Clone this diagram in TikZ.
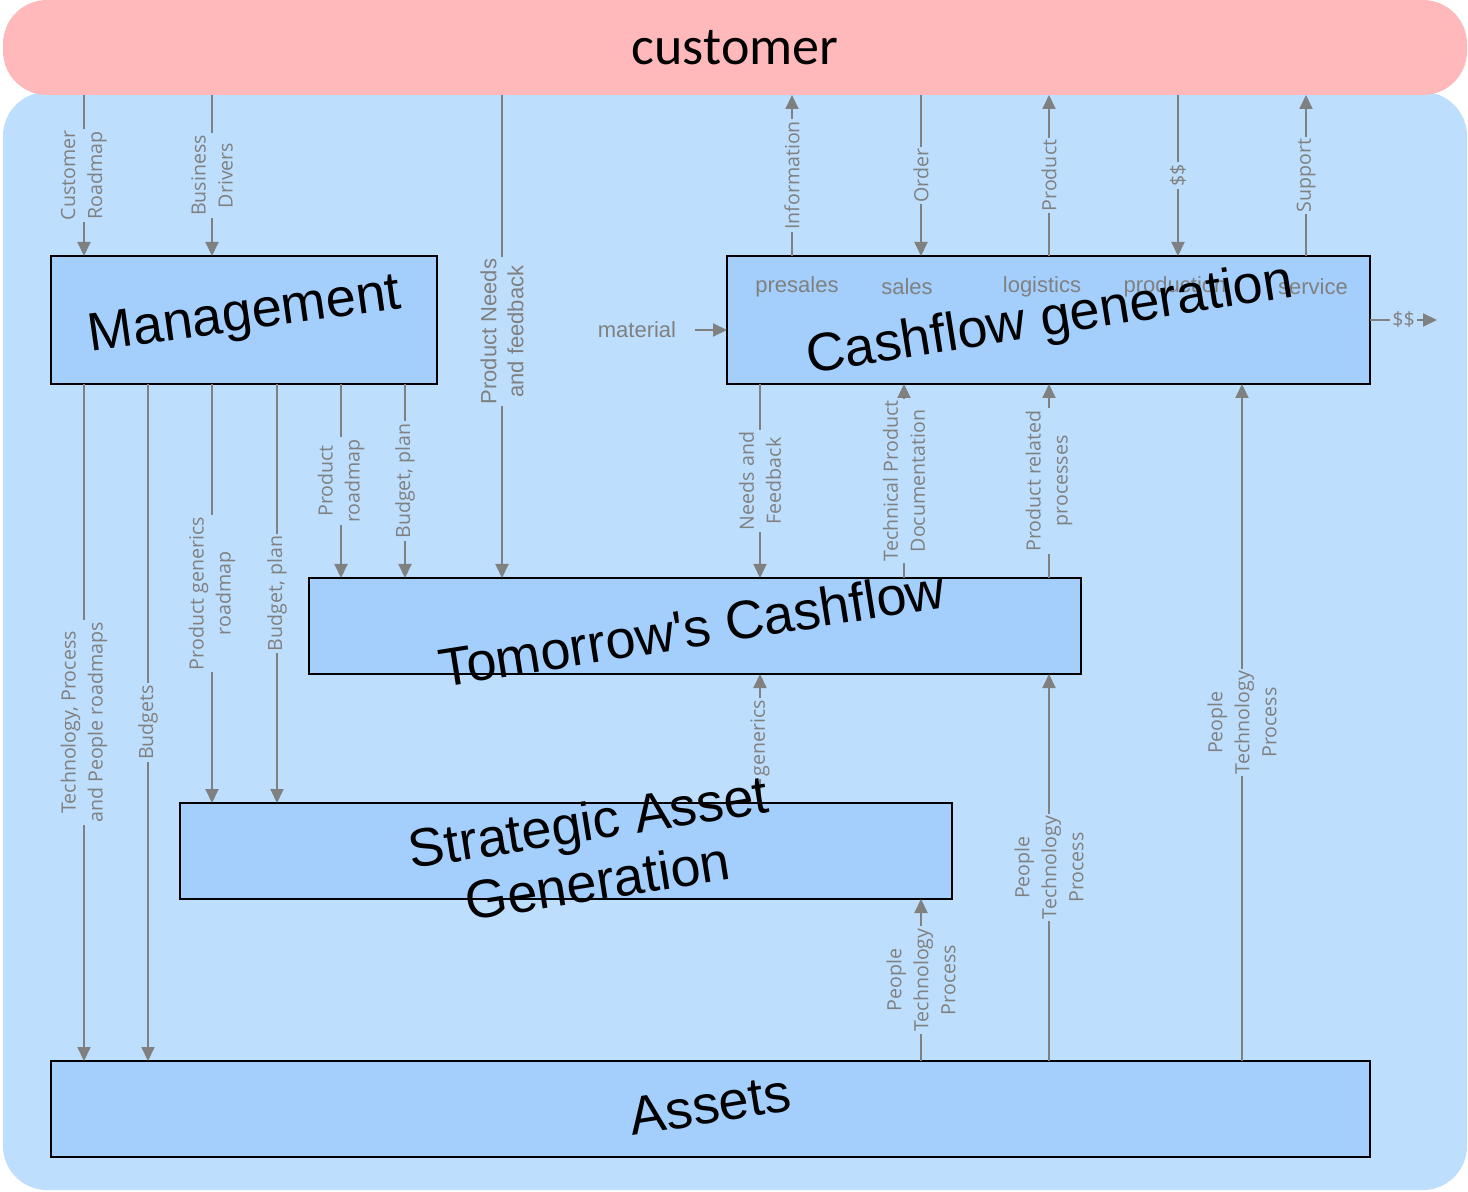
\documentclass[tikz,border=0pt]{standalone}
\usepackage{fontspec}
\newfontfamily\arialf{Liberation Sans}
\newfontfamily\osans{Open Sans}
\newfontfamily\carl{Carlito}
\usetikzlibrary{arrows.meta}
\definecolor{bgblue}{RGB}{190,222,253}
\definecolor{boxblue}{RGB}{164,207,253}
\definecolor{custpink}{RGB}{255,185,186}
\definecolor{lgray}{RGB}{128,128,128}
\begin{document}
\begin{tikzpicture}[x=0.5pt,y=-0.5pt,
 box/.style={draw=black, line width=0.8pt, fill=boxblue, inner sep=0pt, outer sep=0pt},
 bigtxt/.style={font=\arialf\fontsize{27}{30}\selectfont, align=center, inner sep=0pt},
 arr/.style={draw=lgray, line width=1pt, -{Triangle[width=6.5pt,length=7pt]}},
 lbl/.style={font=\osans\fontsize{9.8}{13.5}\selectfont, text=lgray, fill=bgblue, rotate=90, align=center, inner sep=1pt},
 lbla/.style={lbl, font=\arialf\fontsize{11}{13.5}\selectfont},
 hlbl/.style={font=\osans\fontsize{9.8}{12}\selectfont, text=lgray, fill=bgblue, inner sep=1pt},
 inlbl/.style={font=\arialf\fontsize{11}{13}\selectfont, text=lgray, inner sep=0pt},
]
\useasboundingbox (0,0) rectangle (1468,1192);
\fill[bgblue, rounded corners=22pt] (3,92) rectangle (1467,1190);
\node[fill=custpink, rounded corners=22pt, minimum width=732pt, minimum height=47.5pt, inner sep=0pt, outer sep=0pt, font=\carl\fontsize{27}{30}\selectfont] (cust) at (735,47.5) {customer};

% boxes
\node[box, minimum width=193pt, minimum height=64pt] (mgmt) at (244,320) {};
\node[box, minimum width=321.5pt, minimum height=64pt] (cfg) at (1048.5,320) {};
\node[box, minimum width=386pt, minimum height=48pt] (tom) at (695,626) {};
\node[box, minimum width=386pt, minimum height=48pt] (sag) at (566,851) {};
\node[box, minimum width=659.5pt, minimum height=48pt] (assets) at (710.5,1109) {};

% column coordinates
\foreach \c in {84,148,212,277,341,405,502,760,792,904,921,1049,1178,1242,1306}
  \coordinate (c\c) at (\c,0);

% customer <-> management / cashflow
\draw[arr] (cust.south -| c84) -- node[lbl]{Customer\\Roadmap} (mgmt.north -| c84);
\draw[arr] (cust.south -| c212) -- node[lbl]{Business\\Drivers} (mgmt.north -| c212);
\draw[arr] (cust.south -| c502) -- node[lbla, pos=0.49]{Product Needs\\and feedback} (tom.north -| c502);
\draw[arr] (cfg.north -| c792) -- node[lbl]{Information} (cust.south -| c792);
\draw[arr] (cust.south -| c921) -- node[lbl]{Order} (cfg.north -| c921);
\draw[arr] (cfg.north -| c1049) -- node[lbl]{Product} (cust.south -| c1049);
\draw[arr] (cust.south -| c1178) -- node[lbl]{\$\$} (cfg.north -| c1178);
\draw[arr] (cfg.north -| c1306) -- node[lbl]{Support} (cust.south -| c1306);

% management outputs
\draw[arr] (mgmt.south -| c84) -- node[lbl]{Technology, Process\\and People roadmaps} (assets.north -| c84);
\draw[arr] (mgmt.south -| c148) -- node[lbl]{Budgets} (assets.north -| c148);
\draw[arr] (mgmt.south -| c212) -- node[lbl]{Product generics\\roadmap} (sag.north -| c212);
\draw[arr] (mgmt.south -| c277) -- node[lbl]{Budget, plan} (sag.north -| c277);
\draw[arr] (mgmt.south -| c341) -- node[lbl]{Product\\roadmap} (tom.north -| c341);
\draw[arr] (mgmt.south -| c405) -- node[lbl]{Budget, plan} (tom.north -| c405);

% cashflow <-> tomorrow
\draw[arr] (cfg.south -| c760) -- node[lbl]{Needs and\\Feedback} (tom.north -| c760);
\draw[arr] (tom.north -| c904) -- node[lbl]{Technical Product\\Documentation} (cfg.south -| c904);
\draw[arr] (tom.north -| c1049) -- node[lbl]{Product related\\processes} (cfg.south -| c1049);

% lower flows
\draw[arr] (sag.north -| c760) -- node[lbl]{generics} (tom.south -| c760);
\draw[arr] (assets.north -| c921) -- node[lbl]{People\\Technology\\Process} (sag.south -| c921);
\draw[arr] (assets.north -| c1049) -- node[lbl]{People\\Technology\\Process} (tom.south -| c1049);
\draw[arr] (assets.north -| c1242) -- node[lbl]{People\\Technology\\Process} (cfg.south -| c1242);

% material and $$ out
\node[inlbl] (mat) at (637,330) {material};
\draw[arr] ([xshift=9pt]mat.east) -- (mat.east -| cfg.west);
\coordinate (dollarend) at (1437,320);
\draw[arr] (cfg.east) -- node[hlbl]{\$\$} (dollarend);

% cashflow stages
\node[inlbl] (presales) at (797,287) {presales};
\node[inlbl] (sales) at (907,287) {sales};
\node[inlbl] (logistics) at (1042,287) {logistics};
\node[inlbl] (production) at (1175,287) {production};
\node[inlbl] (service) at (1313,287) {service};

% big titles
\node[bigtxt, rotate=8] (mgmtt) at (245,317) {Management};
\node[bigtxt, rotate=9] (cfgt) at (1050,321) {Cashflow generation};
\node[bigtxt, rotate=9] (tomt) at (692,628) {Tomorrow's Cashflow};
\node[bigtxt, rotate=9] (sagt) at (593,851) {Strategic Asset\\Generation};
\node[bigtxt, rotate=9] (assetst) at (710,1105) {Assets};
\end{tikzpicture}
\end{document}
